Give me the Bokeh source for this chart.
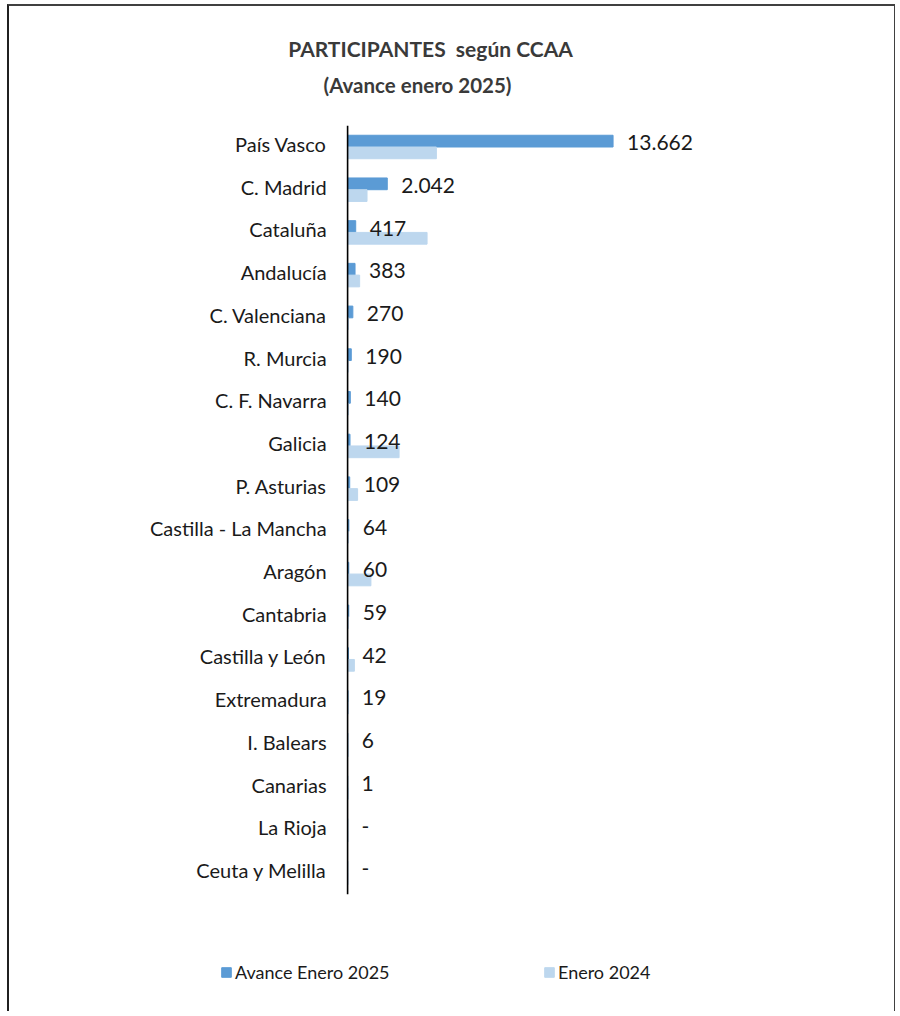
from bokeh.plotting import figure
from bokeh.models import ColumnDataSource, Legend, LegendItem, FactorRange, Range1d, Label
from bokeh.transform import dodge
from bokeh.core.properties import value
from bokeh.embed import file_html
from bokeh.resources import INLINE

regions = ["País Vasco", "C. Madrid", "Cataluña", "Andalucía", "C. Valenciana",
           "R. Murcia", "C. F. Navarra", "Galicia", "P. Asturias",
           "Castilla - La Mancha", "Aragón", "Cantabria", "Castilla y León",
           "Extremadura", "I. Balears", "Canarias", "La Rioja", "Ceuta y Melilla"]
avance_2025 = [13662, 2042, 417, 383, 270, 190, 140, 124, 109, 64, 60, 59, 42, 19, 6, 1, 0, 0]
enero_2024 = [4570, 1000, 4090, 620, 40, 30, 40, 2650, 515, 40, 1200, 40, 350, 40, 30, 30, 20, 20]
value_labels = ["13.662", "2.042", "417", "383", "270", "190", "140", "124", "109",
                "64", "60", "59", "42", "19", "6", "1", "-", "-"]
series_names = ["Avance Enero 2025", "Enero 2024"]
title_text = "PARTICIPANTES\u00a0 según CCAA"
subtitle_text = "(Avance enero 2025)"

FONT = "Lato"
TXT = "#1a1a1a"
W, H = 888, 1007

src = ColumnDataSource(dict(cat=regions, v25=avance_2025, v24=enero_2024, lab=value_labels))
axis_src = ColumnDataSource(dict(x=[0], y0=[regions[-1]], y1=[regions[0]]))

p = figure(width=W, height=H, output_backend="svg", toolbar_location=None,
           x_axis_type=None, y_axis_type=None,
           y_range=FactorRange(factors=list(reversed(regions)), range_padding=2.79,
                               range_padding_units="absolute"),
           x_range=Range1d(-17400, 28300), min_border=0)
p.xgrid.visible = False
p.ygrid.visible = False
p.outline_line_color = None

r25 = p.hbar(y=dodge("cat", 0.1375, range=p.y_range), right="v25", left=0, height=0.275,
             color="#5B9BD5", source=src)
r24 = p.hbar(y=dodge("cat", -0.1375, range=p.y_range), right="v24", left=0, height=0.275,
             color="#BDD7EE", source=src)

# vertical category axis line
p.segment(x0="x", x1="x", y0=dodge("y0", -0.5, range=p.y_range),
          y1=dodge("y1", 0.5, range=p.y_range), source=axis_src,
          line_color="#000000", line_width=1.6)

# category labels
p.text(x=0, y=dodge("cat", 0.07, range=p.y_range), text="cat", source=src,
       x_offset=-21, text_align="right", text_baseline="middle",
       text_font=value(FONT), text_font_size="20px", text_color=TXT)

# value labels
p.text(x="v25", y=dodge("cat", 0.1, range=p.y_range), text="lab", source=src,
       x_offset=14, text_baseline="middle", text_align="left",
       text_font=value(FONT), text_font_size="21px", text_color=TXT)

p.add_layout(Label(x=421, y=H - 42, x_units="screen", y_units="screen",
                   text=title_text, text_align="center", text_baseline="middle",
                   text_font=FONT, text_font_style="bold", text_font_size="21px",
                   text_color="#3a3a3a"))
p.add_layout(Label(x=408, y=H - 78, x_units="screen", y_units="screen",
                   text=subtitle_text, text_align="center", text_baseline="middle",
                   text_font=FONT, text_font_style="bold", text_font_size="20.5px",
                   text_color="#3a3a3a"))

for rend, name, loc in [(r25, series_names[0], (211, 30)), (r24, series_names[1], (534, 30))]:
    lg = Legend(items=[LegendItem(label=name, renderers=[rend])], location=loc,
                glyph_width=12, glyph_height=12, label_standoff=3, padding=0, margin=0,
                label_text_font=FONT, label_text_font_size="18px", label_text_color=TXT,
                border_line_color=None, background_fill_alpha=0, label_height=20)
    p.add_layout(lg, "center")

p.styles = {"margin-left": "7px", "margin-top": "4px",
            "border-top": "2px solid #404040", "border-left": "2px solid #202020",
            "border-right": "1.5px solid #404040"}

open("out.html", "w").write(file_html(p, INLINE))
